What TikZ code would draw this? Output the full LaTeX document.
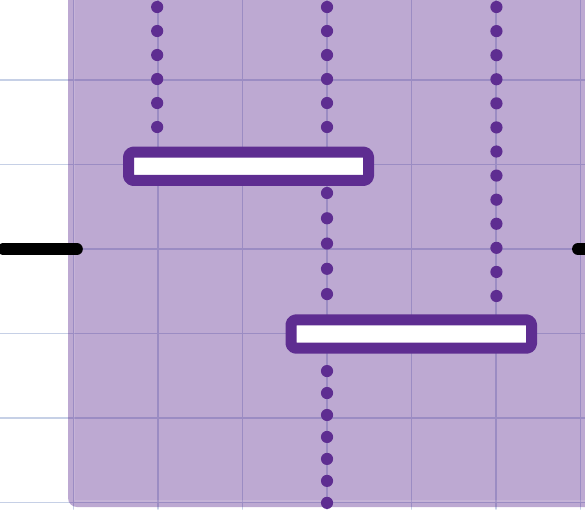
\documentclass[tikz,border=0pt]{standalone}
\usepackage{tikz}
\definecolor{lavgrid}{HTML}{C6D0E6}
\definecolor{darkpurple}{HTML}{5E2D91}
\tikzset{bar/.style={draw=darkpurple, fill=white, line width=3.7pt, rounded corners=1.5pt, minimum height=0.335cm, inner sep=0pt}}

\begin{document}
\begin{tikzpicture}[line join=round, line cap=round]
	\def\xmin{-3.870} \def\xmax{3.053} \def\ymin{-3.077} \def\ymax{2.947}
	\useasboundingbox (\xmin,\ymin) rectangle (\xmax,\ymax);
	\clip (\xmin,\ymin) rectangle (\xmax,\ymax);
	% grid
	\draw[lavgrid, line width=0.5pt] (\xmin,\ymin) grid (\xmax,\ymax);
	% shaded band
	\fill[darkpurple, opacity=0.41, rounded corners=3pt] (-3.065,-3.053) rectangle (3.3,3.2);
	\draw[white, opacity=0.12, line width=0.5pt] (-2.99,3.2)--(-2.99,-2.98)--(3.3,-2.98);
	% black line
	\draw[line width=4pt] (-3.83,0)--(-2.96,0);
	\draw[line width=4pt] (2.97,0)--(3.3,0);
	% dots
	\foreach \i in {0,...,5} {
		\fill[darkpurple] (-2.01,2.864-0.284*\i) circle (2.05pt);
		\fill[darkpurple] (0,2.864-0.284*\i) circle (2.05pt);}
	\foreach \i in {0,...,4} \fill[darkpurple] (0,0.663-0.299*\i) circle (2.05pt);
	\foreach \i in {0,...,6} \fill[darkpurple] (0,-1.444-0.26*\i) circle (2.05pt);
	\foreach \i in {0,...,12} \fill[darkpurple] (2.005,2.864-0.285*\i) circle (2.05pt);
	% bars
	\node[bar, minimum width=2.84cm] (upper) at (-0.929,0.979) {};
	\node[bar, minimum width=2.846cm] (lower) at (0.997,-1.006) {};
\end{tikzpicture}
\end{document}
